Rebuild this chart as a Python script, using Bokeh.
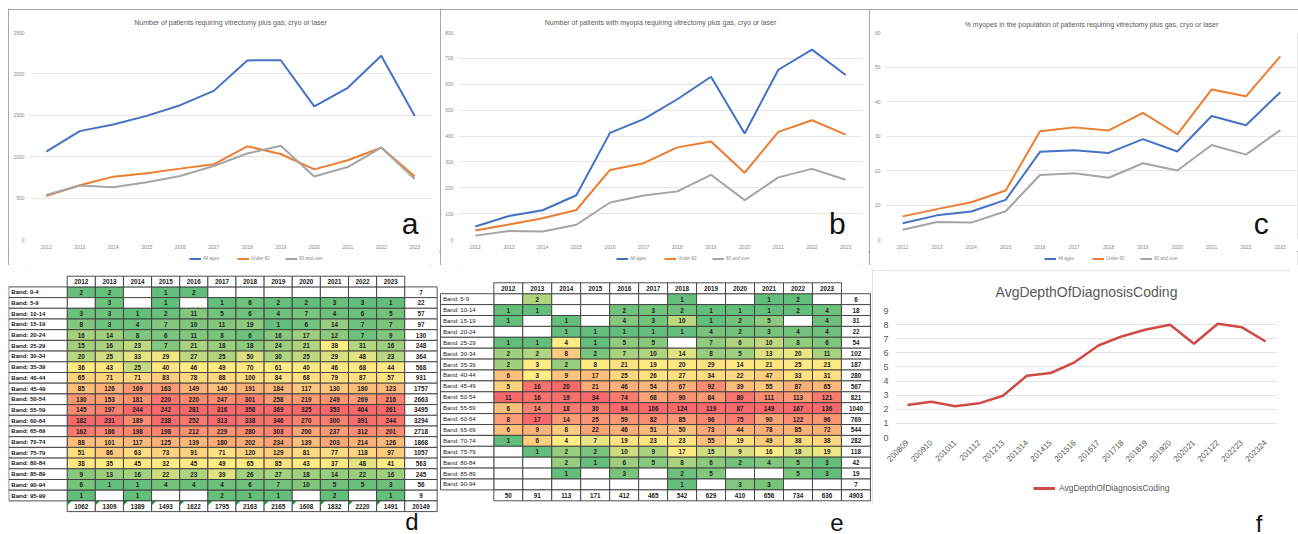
import numpy as np
from bokeh.plotting import figure
from bokeh.models import Range1d, FixedTicker, Legend, LegendItem, Spacer, FactorRange
from bokeh.layouts import row, column
from bokeh.embed import file_html
from bokeh.resources import INLINE
from bokeh.core.properties import value

FONT = "Liberation Sans"

# ---------------- data: panels a-c ----------------
YEARS = [2012, 2013, 2014, 2015, 2016, 2017, 2018, 2019, 2020, 2021, 2022, 2023]
SERIES_NAMES = ["All ages", "Under 60", "60 and over"]

A_ALL = [1062, 1309, 1389, 1493, 1622, 1795, 2163, 2165, 1608, 1832, 2220, 1491]
A_U60 = [525, 656, 759, 801, 856, 908, 1125, 1033, 847, 957, 1110, 762]
A_60P = [537, 653, 630, 692, 766, 887, 1038, 1132, 761, 875, 1110, 729]

B_ALL = [50, 91, 113, 171, 412, 465, 542, 629, 410, 656, 734, 636]
B_U60 = [35, 58, 82, 114, 269, 295, 356, 379, 258, 416, 461, 405]
B_60P = [15, 33, 31, 57, 143, 170, 186, 250, 152, 240, 273, 231]

C_ALL = [4.7, 7.0, 8.1, 11.5, 25.4, 25.9, 25.1, 29.1, 25.5, 35.8, 33.1, 42.7]
C_U60 = [6.7, 8.8, 10.8, 14.2, 31.4, 32.5, 31.6, 36.7, 30.5, 43.5, 41.5, 53.1]
C_60P = [2.8, 5.1, 4.9, 8.2, 18.7, 19.2, 17.9, 22.1, 20.0, 27.4, 24.6, 31.7]

# ---------------- data: table d ----------------
D_BANDS = ["Band: 0-4", "Band: 5-9", "Band: 10-14", "Band: 15-19", "Band: 20-24", "Band: 25-29",
           "Band: 30-34", "Band: 35-39", "Band: 40-44", "Band: 45-49", "Band: 50-54", "Band: 55-59",
           "Band: 60-64", "Band: 65-69", "Band: 70-74", "Band: 75-79", "Band: 80-84", "Band: 85-89",
           "Band: 90-94", "Band: 95-99"]
D_COUNTS = [
    [2, 2, None, 1, 2, None, None, None, None, None, None, None],
    [None, 3, None, 1, None, 1, 6, 2, 2, 3, 3, 1],
    [3, 3, 1, 2, 11, 5, 6, 4, 7, 4, 6, 5],
    [8, 3, 4, 7, 10, 11, 19, 1, 6, 14, 7, 7],
    [16, 14, 8, 6, 11, 8, 6, 16, 17, 12, 7, 9],
    [15, 16, 23, 7, 21, 18, 18, 24, 21, 38, 31, 16],
    [20, 25, 33, 29, 27, 25, 50, 30, 25, 29, 48, 23],
    [36, 43, 25, 40, 46, 49, 70, 61, 40, 46, 68, 44],
    [65, 71, 71, 83, 78, 88, 100, 84, 68, 79, 87, 57],
    [85, 126, 169, 163, 149, 140, 191, 184, 117, 130, 180, 123],
    [130, 153, 181, 220, 220, 247, 301, 258, 219, 249, 269, 216],
    [145, 197, 244, 242, 281, 316, 358, 369, 325, 353, 404, 261],
    [182, 231, 189, 238, 252, 313, 338, 346, 270, 300, 391, 244],
    [162, 186, 198, 198, 212, 229, 280, 303, 200, 237, 312, 201],
    [88, 101, 117, 125, 139, 180, 202, 234, 139, 203, 214, 126],
    [51, 86, 63, 73, 91, 71, 120, 129, 81, 77, 118, 97],
    [38, 35, 45, 32, 45, 49, 65, 85, 43, 37, 48, 41],
    [9, 13, 16, 22, 23, 39, 26, 27, 18, 14, 22, 16],
    [6, 1, 1, 4, 4, 4, 6, 7, 10, 5, 5, 3],
    [1, None, 1, None, None, 2, 1, 1, None, 2, None, 1],
]
D_ROW_TOTALS = [7, 22, 57, 97, 130, 248, 364, 568, 931, 1757, 2663, 3495, 3294, 2718, 1868, 1057, 563, 245, 56, 9]
D_COL_TOTALS = [1062, 1309, 1389, 1493, 1622, 1795, 2163, 2165, 1608, 1832, 2220, 1491]
D_GRAND = 20149

# ---------------- data: table e ----------------
E_BANDS = ["Band: 5-9", "Band: 10-14", "Band: 15-19", "Band: 20-24", "Band: 25-29", "Band: 30-34",
           "Band: 35-39", "Band: 40-44", "Band: 45-49", "Band: 50-54", "Band: 55-59", "Band: 60-64",
           "Band: 65-69", "Band: 70-74", "Band: 75-79", "Band: 80-84", "Band: 85-89", "Band: 90-94"]
E_COUNTS = [
    [None, 2, None, None, None, None, 1, None, None, 1, 2, None],
    [1, 1, None, None, 2, 3, 2, 1, 1, 1, 2, 4],
    [1, None, 1, None, 4, 3, 10, 1, 2, 5, None, 4],
    [None, None, 1, 1, 1, 1, 1, 4, 2, 3, 4, 4],
    [1, 1, 4, 1, 5, 5, None, 7, 6, 10, 8, 6],
    [2, 2, 8, 2, 7, 10, 14, 8, 5, 13, 20, 11],
    [2, 3, 2, 8, 21, 19, 20, 29, 14, 21, 25, 23],
    [6, 3, 9, 17, 25, 26, 27, 34, 22, 47, 33, 31],
    [5, 16, 20, 21, 46, 54, 67, 92, 39, 55, 87, 65],
    [11, 16, 19, 34, 74, 68, 90, 84, 80, 111, 113, 121],
    [6, 14, 18, 30, 84, 106, 124, 119, 87, 149, 167, 136],
    [8, 17, 14, 25, 59, 82, 85, 96, 75, 90, 122, 96],
    [6, 9, 8, 22, 46, 51, 50, 73, 44, 78, 85, 72],
    [1, 6, 4, 7, 19, 23, 23, 55, 19, 49, 38, 38],
    [None, 1, 2, 2, 10, 9, 17, 15, 9, 16, 18, 19],
    [None, None, 2, 1, 6, 5, 8, 6, 2, 4, 5, 3],
    [None, None, 1, None, 3, None, 2, 5, None, None, 5, 3],
    [None, None, None, None, None, None, 1, None, 3, 3, None, None],
]
E_ROW_TOTALS = [6, 18, 31, 22, 54, 102, 187, 280, 567, 821, 1040, 769, 544, 282, 118, 42, 19, 7]
E_COL_TOTALS = [50, 91, 113, 171, 412, 465, 542, 629, 410, 656, 734, 636]
E_GRAND = 4903

# ---------------- data: panel f ----------------
F_PERIODS = ["200809", "200910", "201011", "201112", "201213", "201314", "201415", "201516",
             "201617", "201718", "201819", "201920", "202021", "202122", "202223", "202324"]
F_DEPTH = [2.30, 2.54, 2.22, 2.42, 2.96, 4.38, 4.57, 5.33, 6.52, 7.18, 7.65, 7.99, 6.64, 8.06, 7.82, 6.80]
F_SERIES = "AvgDepthOfDiagnosisCoding"

BLUE, ORANGE, GRAY, RED = "#4472C4", "#ED7D31", "#A5A5A5", "#D04B45"


def legend_strip(width, height, entries, loc, font_size, glyph_w, glyph_h, spacing, standoff, lw, color):
    lf = figure(width=width, height=height, x_range=Range1d(0, width), y_range=Range1d(0, height),
                x_axis_type=None, y_axis_type=None, min_border=0,
                output_backend="svg", toolbar_location=None)
    lf.outline_line_color = None
    items = []
    for name, col in entries:
        # legend swatch source: a segment kept outside the visible range
        r = lf.line(x=[-20, -10], y=[-20, -20], line_color=col, line_width=lw)
        items.append(LegendItem(label=name, renderers=[r]))
    lg = Legend(items=items, orientation="horizontal", location=loc,
                label_text_font=FONT, label_text_font_size=font_size, label_text_color=color,
                glyph_width=glyph_w, glyph_height=glyph_h, label_height=glyph_h, label_standoff=standoff,
                spacing=spacing, padding=0, margin=0, border_line_color=None, background_fill_alpha=0)
    lf.add_layout(lg)
    return lf


def line_chart(width, title, ymax, ystep, series, letter, letter_x, mb_left, mb_right, title_standoff,
               title_offset, leg_x):
    p = figure(width=width, height=242, x_range=Range1d(2011.5, 2023.5), y_range=Range1d(0, ymax),
               output_backend="svg", toolbar_location=None,
               min_border_left=mb_left, min_border_right=mb_right, min_border_top=23, min_border_bottom=12)
    p.title.text = title
    p.title.align = "center"
    p.title.offset = title_offset
    p.title.text_font = FONT
    p.title.text_font_size = "7px"
    p.title.text_font_style = "normal"
    p.title.text_color = "#595959"
    p.title.standoff = title_standoff
    p.outline_line_color = None
    p.xaxis.ticker = FixedTicker(ticks=YEARS)
    p.yaxis.ticker = FixedTicker(ticks=list(range(0, ymax + 1, ystep)))
    for ax in (p.xaxis, p.yaxis):
        ax.axis_line_color = None
        ax.major_tick_line_color = None
        ax.minor_tick_line_color = None
        ax.major_tick_out = 0
        ax.major_tick_in = 0
        ax.major_label_text_font = FONT
        ax.major_label_text_font_size = "5px"
        ax.major_label_text_color = "#8a8a8a"
        ax.major_label_standoff = 5
    p.xgrid.grid_line_color = None
    p.ygrid.grid_line_color = "#E6E6E6"
    for name, vals, color in series:
        p.line(YEARS, vals, line_color=color, line_width=2)
    p.text(x=[letter_x], y=[0], text=[letter], text_font=value(FONT),
           text_font_size="30px", text_align="right", text_baseline="bottom", text_color="#111111")
    lf = legend_strip(width, 14, [(n, c) for n, _, c in series], (leg_x, 4.5), "4.5px", 12, 5, 14, 2, 2, "#8a8a8a")
    return column(p, lf, styles={"outline": "1.5px solid #8c8c8c", "outline-offset": "-1px"})


pa = line_chart(432, "Number of patients requiring vitrectomy plus gas, cryo or laser", 2500, 500,
                [(SERIES_NAMES[0], A_ALL, BLUE), (SERIES_NAMES[1], A_U60, ORANGE), (SERIES_NAMES[2], A_60P, GRAY)],
                "a", 2023.11, 21, 9, 14, -7, 160)
pb = line_chart(429, "Number of patients with myopia requiring vitrectomy plus gas, cryo or laser", 800, 100,
                [(SERIES_NAMES[0], B_ALL, BLUE), (SERIES_NAMES[1], B_U60, ORANGE), (SERIES_NAMES[2], B_60P, GRAY)],
                "b", 2023.0, 18, 7, 14, -7, 158)
pc = line_chart(429, "% myopes in the population of patients requiring vitrectomy plus gas, cryo or laser", 60, 10,
                [(SERIES_NAMES[0], C_ALL, BLUE), (SERIES_NAMES[1], C_U60, ORANGE), (SERIES_NAMES[2], C_60P, GRAY)],
                "c", 2022.66, 16, 1, 9, -9, 159)

# ---------------- heat tables ----------------
GREEN_RGB, YELLOW_RGB, RED_RGB = (99, 190, 123), (255, 235, 132), (248, 105, 107)


def column_colors(vals):
    present = [v for v in vals if v is not None]
    lo, hi = min(present), max(present)
    mid = float(np.percentile(present, 50))
    out = []
    for v in vals:
        if v is None:
            out.append("#ffffff")
            continue
        if v <= mid:
            t = 0.0 if mid == lo else (v - lo) / (mid - lo)
            c0, c1 = GREEN_RGB, YELLOW_RGB
        else:
            t = 1.0 if hi == mid else (v - mid) / (hi - mid)
            c0, c1 = YELLOW_RGB, RED_RGB
        rgb = tuple(int(round(a + (b - a) * t)) for a, b in zip(c0, c1))
        out.append("#%02x%02x%02x" % rgb)
    return out


def heat_table(width, height, bands, counts, row_tot, col_tot, grand, col_px, row_px, left_px, top_px,
               lab_px, tot_px, label_bold, letter, letter_px, flags):
    n = len(bands)
    x0 = -left_px / col_px
    y_top = -top_px / row_px
    p = figure(width=width, height=height, x_range=Range1d(x0, x0 + width / col_px),
               y_range=Range1d(y_top + height / row_px, y_top), x_axis_type=None, y_axis_type=None,
               min_border=0, output_backend="svg", toolbar_location=None)
    p.outline_line_color = None
    lab_w = lab_px / col_px
    tot_w = tot_px / col_px
    line_kw = dict(line_color="#3c3c3c", line_width=0.9)
    txt_kw = dict(text_font=value(FONT), text_font_size="6.3px", text_font_style="bold",
                  text_align="center", text_baseline="middle", text_color="#1a1a1a")
    ncol = len(YEARS)
    cols = [column_colors([counts[r][c] for r in range(n)]) for c in range(ncol)]
    cx, cy, cc, tx, ty, tt = [], [], [], [], [], []
    for r in range(n):
        for c in range(ncol):
            cx.append(c + 0.5)
            cy.append(r + 1.5)
            cc.append(cols[c][r])
            v = counts[r][c]
            if v is not None:
                tx.append(c + 0.5)
                ty.append(r + 1.5)
                tt.append(str(v))
    p.rect(cx, cy, width=1, height=1, fill_color=cc, **line_kw)
    p.text(tx, ty, text=tt, **txt_kw)
    hx = [c + 0.5 for c in range(ncol)]
    p.rect(hx, [0.5] * ncol, width=1, height=1, fill_color="white", **line_kw)
    p.text(hx, [0.5] * ncol, text=[str(y) for y in YEARS], **txt_kw)
    ly = [r + 1.5 for r in range(n)]
    p.rect([-lab_w / 2] * n, ly, width=lab_w, height=1, fill_color="white", **line_kw)
    lab_kw = dict(txt_kw)
    lab_kw.update(text_align="left", text_font_size="6px",
                  text_font_style="bold" if label_bold else "normal")
    p.text([-lab_w + 2.5 / col_px] * n, ly, text=bands, **lab_kw)
    rx = ncol + tot_w / 2
    p.rect([rx] * n, ly, width=tot_w, height=1, fill_color="white", **line_kw)
    p.text([rx] * n, ly, text=[str(v) for v in row_tot], **txt_kw)
    by = n + 1.5
    p.rect(hx, [by] * ncol, width=1, height=1, fill_color="white", **line_kw)
    p.text(hx, [by] * ncol, text=[str(v) for v in col_tot], **txt_kw)
    p.rect([rx], [by], width=tot_w, height=1, fill_color="white", **line_kw)
    p.text([rx], [by], text=[str(grand)], **txt_kw)
    if flags:
        fw, fh = 4.5 / col_px, 4.5 / row_px
        xs = [[c, c + fw, c] for c in range(ncol)]
        ys = [[n + 1, n + 1, n + 1 + fh] for _ in range(ncol)]
        p.patches(xs, ys, fill_color="#1E8C3A", line_color=None)
    p.text([x0 + letter_px[0] / col_px], [y_top + letter_px[1] / row_px], text=[letter],
           text_font=value(FONT), text_font_size="24px", text_align="right",
           text_baseline="alphabetic", text_color="#111111")
    return p


pd_ = heat_table(431, 269, D_BANDS, D_COUNTS, D_ROW_TOTALS, D_COL_TOTALS, D_GRAND,
                 col_px=28.13, row_px=10.7, left_px=58.7, top_px=10.7, lab_px=58.4, tot_px=32.4,
                 label_bold=True, letter="d", letter_px=(410, 256), flags=True)
pe_ = heat_table(433, 269, E_BANDS, E_COUNTS, E_ROW_TOTALS, E_COL_TOTALS, E_GRAND,
                 col_px=28.97, row_px=10.9, left_px=54.3, top_px=17.3, lab_px=53.3, tot_px=29.0,
                 label_bold=False, letter="e", letter_px=(404, 257), flags=False)

# ---------------- panel f ----------------
pf = figure(width=419, height=200, x_range=FactorRange(*F_PERIODS), y_range=Range1d(0, 9),
            output_backend="svg", toolbar_location=None,
            min_border_left=23, min_border_right=14, min_border_top=40, min_border_bottom=33)
pf.title.text = F_SERIES
pf.title.align = "center"
pf.title.offset = -4
pf.title.text_font = FONT
pf.title.text_font_size = "14px"
pf.title.text_font_style = "normal"
pf.title.text_color = "#595959"
pf.title.standoff = 22
pf.outline_line_color = None
pf.yaxis.ticker = FixedTicker(ticks=list(range(0, 10)))
for ax in (pf.xaxis, pf.yaxis):
    ax.axis_line_color = None
    ax.major_tick_line_color = None
    ax.minor_tick_line_color = None
    ax.major_tick_out = 0
    ax.major_tick_in = 0
    ax.major_label_text_font = FONT
    ax.major_label_text_color = "#595959"
pf.yaxis.major_label_text_font_size = "9px"
pf.yaxis.major_label_standoff = 7
pf.xaxis.major_label_text_font_size = "8px"
pf.xaxis.major_label_orientation = np.pi / 4
pf.xaxis.major_label_standoff = 4
pf.xgrid.grid_line_color = None
pf.ygrid.grid_line_color = "#E3E3E3"
pf.line(F_PERIODS, F_DEPTH, line_color=RED, line_width=2.5)
pf_leg = legend_strip(419, 33, [(F_SERIES, RED)], (138, 10), "8.5px", 22, 10, 10, 4, 3, "#595959")

pf_lab = figure(width=419, height=31, x_range=Range1d(0, 419), y_range=Range1d(0, 31),
                x_axis_type=None, y_axis_type=None, min_border=0,
                output_backend="svg", toolbar_location=None)
pf_lab.outline_line_color = None
pf_lab.text(x=[390], y=[11], text=["f"], text_font=value(FONT), text_font_size="24px",
            text_align="right", text_baseline="alphabetic", text_color="#111111")

pf_box = column(pf, pf_leg, styles={"outline": "1px solid #d9d9d9", "outline-offset": "-1px"})

layout = column(Spacer(width=1298, height=9),
                row(Spacer(width=8, height=256), pa, pb, pc),
                row(Spacer(width=8, height=269), pd_, pe_, column(Spacer(width=419, height=5), pf_box, pf_lab)))

open("out.html", "w").write(file_html(layout, INLINE))
